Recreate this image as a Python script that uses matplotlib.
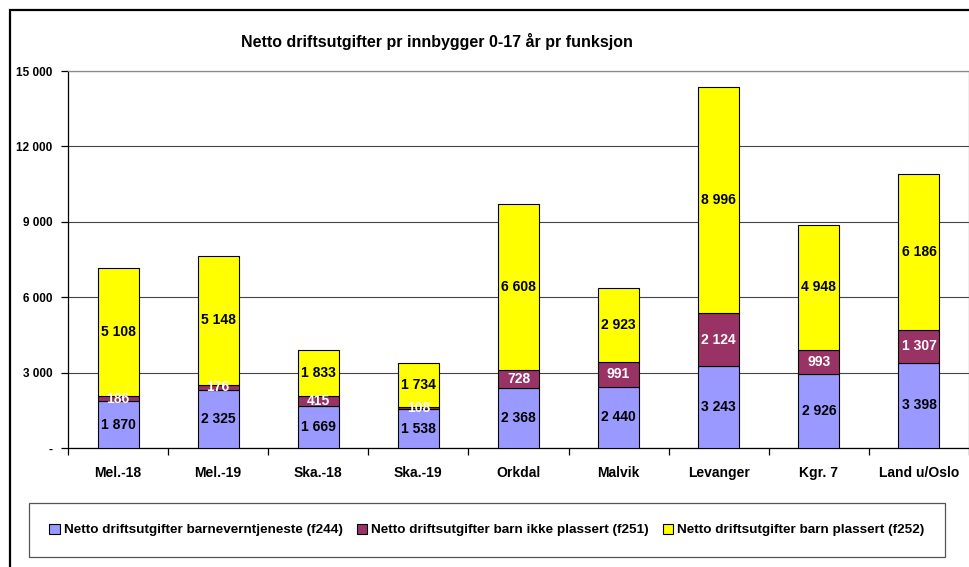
import numpy as np
import matplotlib
matplotlib.use('Agg')
import matplotlib.pyplot as plt
from matplotlib.patches import Rectangle
from matplotlib.ticker import FuncFormatter, MultipleLocator

plt.rcParams['font.family'] = ['Liberation Sans', 'DejaVu Sans']

categories = ['Mel.-18', 'Mel.-19', 'Ska.-18', 'Ska.-19', 'Orkdal', 'Malvik', 'Levanger', 'Kgr. 7', 'Land u/Oslo']
f244 = [1870, 2325, 1669, 1538, 2368, 2440, 3243, 2926, 3398]
f251 = [186, 176, 415, 108, 728, 991, 2124, 993, 1307]
f252 = [5108, 5148, 1833, 1734, 6608, 2923, 8996, 4948, 6186]
series_names = ['Netto driftsutgifter barneverntjeneste (f244)',
                'Netto driftsutgifter barn ikke plassert (f251)',
                'Netto driftsutgifter barn plassert (f252)']
colors = ['#9999FF', '#993366', '#FFFF00']
label_colors = ['black', 'white', 'black']

def fmt(v):
    return '{:,}'.format(int(v)).replace(',', ' ')

fig = plt.figure(figsize=(9.7, 5.67), dpi=100)
ax = fig.add_axes([68/970, 1-448/567, 901/970, 377/567])

x = np.arange(len(categories))
bottom = np.zeros(len(categories))
for vals, col, lc, name in zip([f244, f251, f252], colors, label_colors, series_names):
    vals = np.array(vals)
    ax.bar(x, vals, 0.41, bottom=bottom, color=col, edgecolor='black', linewidth=0.8, label=name, zorder=3)
    for xi, b, v in zip(x, bottom, vals):
        ax.text(xi, b + v/2, fmt(v), ha='center', va='center', color=lc,
                fontsize=10, fontweight='bold', zorder=4)
    bottom += vals

ax.set_xlim(-0.5, len(categories)-0.5)
ax.set_ylim(0, 15000)
ax.yaxis.set_major_locator(MultipleLocator(3000))
ax.yaxis.set_major_formatter(FuncFormatter(lambda v, p: '-' if v == 0 else fmt(v)))
ax.grid(axis='y', color='#444444', linewidth=0.8, zorder=0)
ax.set_xticks(x)
ax.set_xticklabels(categories, fontsize=10, fontweight='bold')
ax.set_xticks(np.arange(-0.5, len(categories)), minor=True)
ax.tick_params(axis='x', which='major', length=0, pad=13)
ax.tick_params(axis='x', which='minor', length=5, width=0.9, direction='out')
ax.tick_params(axis='y', length=5, width=0.9, direction='out', pad=6, labelsize=8.5)
for t in ax.get_yticklabels():
    t.set_fontweight('bold')
for s in ['left', 'bottom']:
    ax.spines[s].set_color('black')
    ax.spines[s].set_linewidth(0.9)
for s in ['top', 'right']:
    ax.spines[s].set_color('#888888')
    ax.spines[s].set_linewidth(0.9)

fig.text(437/970, 1-42/567, 'Netto driftsutgifter pr innbygger 0-17 år pr funksjon',
         ha='center', va='center', fontsize=11.5, fontweight='bold')

leg = fig.legend(loc='center', bbox_to_anchor=(487/970, 1-530/567), ncol=3,
                 prop={'weight': 'bold', 'size': 9.7}, handlelength=0.8, handleheight=0.8,
                 handletextpad=0.3, columnspacing=1.0, borderpad=1.5, fancybox=False,
                 edgecolor='#555555', framealpha=1)
leg.get_frame().set_linewidth(0.9)

# outer chart frame
fig.patches.append(Rectangle((10/970, -0.2), 1.2, 1-10/567+0.2, transform=fig.transFigure,
                             fill=False, edgecolor='black', linewidth=1.6, clip_on=False))

fig.savefig('out.png', dpi=100)
